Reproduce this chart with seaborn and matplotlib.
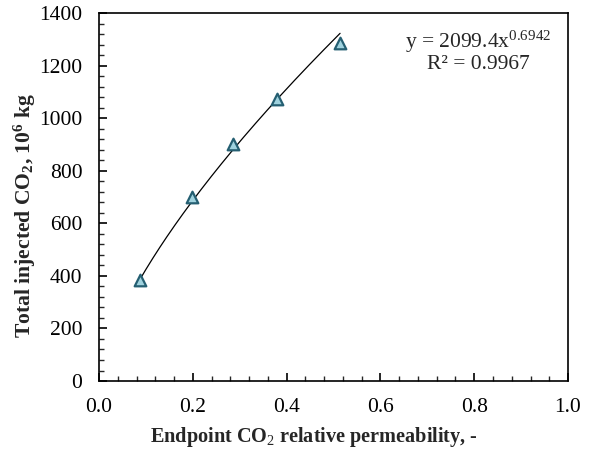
import numpy as np
import pandas as pd
import matplotlib
matplotlib.use("Agg")
import matplotlib.pyplot as plt
from matplotlib.ticker import MultipleLocator
import seaborn as sns

# Endpoint CO2 relative permeability vs. total injected CO2
krg = [0.087, 0.198, 0.286, 0.380, 0.514]
injected = [384, 700, 900, 1072, 1285]

# Power-law trendline y = a * x^b
coef_a = 2099.4
coef_b = 0.6942
r_squared = 0.9967

x_ticks = [0.0, 0.2, 0.4, 0.6, 0.8, 1.0]
y_ticks = [0, 200, 400, 600, 800, 1000, 1200, 1400]

sns.set_theme(style="white")
plt.rcParams["font.family"] = ["Liberation Serif", "DejaVu Serif"]
plt.rcParams["mathtext.fontset"] = "custom"
plt.rcParams["mathtext.rm"] = "Liberation Serif"
plt.rcParams["mathtext.it"] = "Liberation Serif:italic"
plt.rcParams["mathtext.bf"] = "Liberation Serif:bold"

fig = plt.figure(figsize=(5.92, 4.5), dpi=100)
ax = fig.add_axes([0.1672, 0.1533, 0.7923, 0.8178])

df = pd.DataFrame({"krg": krg, "injected": injected})
xs = np.linspace(min(krg), max(krg), 200)
fit = pd.DataFrame({"krg": xs, "injected": coef_a * xs ** coef_b})

sns.lineplot(data=fit, x="krg", y="injected", ax=ax, color="black", linewidth=0.9)
sns.scatterplot(data=df, x="krg", y="injected", ax=ax, marker="^", s=70,
                facecolor="#9fd2de", edgecolor="#255f72", linewidth=1.6, zorder=3)

ax.set_xlim(0, 1.0)
ax.set_ylim(0, 1400)
ax.set_xticks(x_ticks)
ax.set_yticks(y_ticks)
ax.set_xticklabels([f"{t:.1f}" for t in x_ticks])
ax.set_yticklabels([str(t) for t in y_ticks])
ax.xaxis.set_minor_locator(MultipleLocator(0.04))
ax.yaxis.set_minor_locator(MultipleLocator(40))
ax.tick_params(which="major", direction="in", length=6, width=1.2, labelsize=15.5,
               colors="black", bottom=True, left=True, top=False, right=False, pad=12)
ax.tick_params(which="minor", direction="in", length=3.5, width=1.0,
               bottom=True, left=True, top=False, right=False)

for sp in ax.spines.values():
    sp.set_visible(True)
    sp.set_color("black")
    sp.set_linewidth(1.2)

ax.set_xlabel("Endpoint CO$_{2}$ relative permeability, -", fontsize=14.6,
              fontweight="bold")
ax.set_ylabel("Total injected CO$_\\mathbf{2}$, 10$^\\mathbf{6}$ kg", fontsize=15.6,
              fontweight="bold")
ax.xaxis.set_label_coords(0.458, -0.152)
ax.xaxis.label.set_va("center")
ax.yaxis.set_label_coords(-0.158, 0.45)
ax.yaxis.label.set_va("center")

ax.text(0.808, 0.922, f"y = {coef_a}x$^{{{coef_b}}}$", transform=ax.transAxes,
        ha="center", va="center", fontsize=15.5)
ax.text(0.808, 0.859, f"R² = {r_squared}", transform=ax.transAxes,
        ha="center", va="center", fontsize=15.5)

fig.savefig("out.png", dpi=100)
